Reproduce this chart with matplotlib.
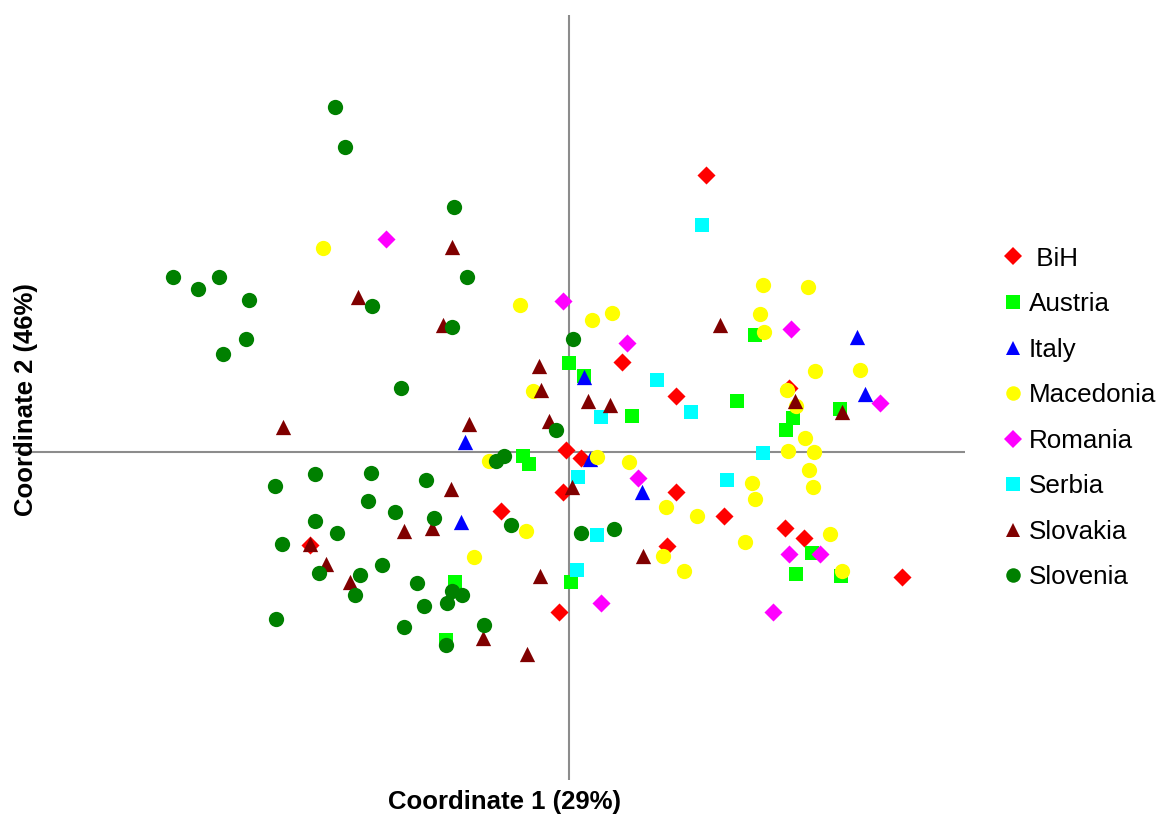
"""
Gráfico de coordenadas (PCoA) por país.
"""
import matplotlib.pyplot as plt
from matplotlib.lines import Line2D

# --- DATOS (Coordenada 1, Coordenada 2) ---
bih_x = [1.37, 0.53, 1.07, 2.20, -0.03, 0.12, -0.06, 1.07, -0.68, 1.55, 2.16, 2.35, 0.98, -2.59, 3.33, -0.10]
bih_y = [2.77, 0.90, 0.56, 0.64, 0.02, -0.06, -0.40, -0.40, -0.59, -0.64, -0.76, -0.86, -0.94, -0.93, -1.25, -1.60]

austria_x = [1.86, 0.00, 0.15, 0.63, 1.68, 2.71, 2.24, 2.17, -0.46, -0.40, 2.43, 2.27, 2.72, 0.02, -1.14, -1.23]
austria_y = [1.17, 0.89, 0.76, 0.36, 0.51, 0.43, 0.34, 0.22, -0.04, -0.12, -1.01, -1.22, -1.24, -1.30, -1.30, -1.88]

italy_x = [0.15, -1.04, 0.21, 0.73, -1.08, 2.88, 2.96]
italy_y = [0.75, 0.10, -0.07, -0.40, -0.70, 1.15, 0.58]

macedonia_x = [-2.46, 1.94, 2.39, -0.49, 0.23, 0.43, 1.91, 1.95, 2.46, 2.91, -0.36, 2.18, 2.27, 2.36, 2.19, 2.45,
               -0.80, 0.28, 0.60, 2.40, 1.83, 2.44, 1.86, 0.97, 1.28, -0.43, 2.61, 1.76, -0.95, 0.94, 1.15, 2.73]
macedonia_y = [2.04, 1.67, 1.65, 1.47, 1.32, 1.39, 1.38, 1.20, 0.81, 0.82, 0.61, 0.62, 0.46, 0.14, 0.01, 0.00,
               -0.09, -0.05, -0.10, -0.18, -0.31, -0.35, -0.47, -0.55, -0.64, -0.79, -0.82, -0.90, -1.05, -1.04, -1.19, -1.19]

romania_x = [-1.83, -0.06, 0.58, 2.22, 3.11, 0.69, 2.20, 2.51, 0.32, 2.04]
romania_y = [2.13, 1.51, 1.09, 1.23, 0.49, -0.26, -1.02, -1.02, -1.51, -1.60]

serbia_x = [1.33, 0.88, 0.32, 1.22, 1.94, 0.09, 1.58, 0.28, 0.08]
serbia_y = [2.27, 0.72, 0.35, 0.40, -0.01, -0.25, -0.28, -0.83, -1.18]

slovakia_x = [-1.17, -2.11, -1.26, 1.51, -0.30, -0.28, 0.19, 0.41, -0.20, -1.00, -2.86, 2.26, 2.73, -1.18, 0.03, -1.65,
              -1.37, -2.59, -2.43, -2.19, -0.29, 0.74, -0.86, -0.42]
slovakia_y = [2.05, 1.55, 1.27, 1.27, 0.86, 0.62, 0.51, 0.47, 0.31, 0.28, 0.25, 0.51, 0.40, -0.37, -0.35, -0.79,
              -0.76, -0.92, -1.12, -1.30, -1.24, -1.04, -1.86, -2.02]

slovenia_x = [-2.34, -2.24, -1.15, -1.02, -3.96, -3.71, -3.50, -3.20, -1.97, -3.23, -3.46, -1.17, 0.04, -1.68, -0.13,
              -0.73, -0.65, -2.94, -2.54, -1.98, -1.43, -2.01, -1.74, -1.35, -2.54, -2.32, -2.87, -0.58, 0.12, 0.45,
              -2.50, -1.87, -2.09, -2.14, -1.52, -1.17, -1.07, -1.22, -1.45, -2.93, -1.65, -0.85, -1.23]
slovenia_y = [3.45, 3.05, 2.45, 1.75, 1.75, 1.63, 1.75, 1.52, 1.46, 1.13, 0.98, 1.25, 1.13, 0.64, 0.22,
              -0.09, -0.04, -0.34, -0.22, -0.21, -0.28, -0.49, -0.60, -0.66, -0.69, -0.81, -0.92, -0.73, -0.81, -0.77,
              -1.21, -1.13, -1.23, -1.43, -1.31, -1.39, -1.43, -1.51, -1.54, -1.67, -1.75, -1.73, -1.93]

paises = [" BiH", "Austria", "Italy", "Macedonia", "Romania", "Serbia", "Slovakia", "Slovenia"]
datos = [(bih_x, bih_y), (austria_x, austria_y), (italy_x, italy_y), (macedonia_x, macedonia_y),
         (romania_x, romania_y), (serbia_x, serbia_y), (slovakia_x, slovakia_y), (slovenia_x, slovenia_y)]

# --- ESTILO ---
colores = ["#FF0000", "#00FF00", "#0000FF", "#FFFF00", "#FF00FF", "#00FFFF", "#800000", "#008000"]
marcadores = ["D", "s", "^", "o", "D", "s", "^", "o"]
tamanos = [9.2, 10.5, 11, 11, 9.2, 10.5, 11, 11]

plt.rcParams['font.family'] = ['Liberation Sans', 'DejaVu Sans']

fig = plt.figure(figsize=(11.61, 8.14), dpi=100)
ax = fig.add_axes([15 / 1161, 34 / 814, 950 / 1161, 765 / 814])

# Ejes centrales
ax.axhline(0, color="#8c8c8c", linewidth=1.5, zorder=1)
ax.axvline(0, color="#8c8c8c", linewidth=1.5, zorder=1)

for (xs, ys), nombre, c, m, t in zip(datos, paises, colores, marcadores, tamanos):
    ax.scatter(xs, ys, marker=m, s=t ** 2, color=c, linewidths=0, zorder=2, label=nombre)

ax.set_xlim(-5.54, 3.96)
ax.set_ylim(-3.28, 4.37)
ax.set_xticks([])
ax.set_yticks([])
for s in ax.spines.values():
    s.set_visible(False)

# Títulos de ejes
fig.text(504 / 1161, 1 - 802 / 814, "Coordinate 1 (29%)", ha="center", va="center",
         fontsize=18.5, fontweight="bold")
fig.text(26 / 1161, 1 - 400 / 814, "Coordinate 2 (46%)", ha="center", va="center",
         fontsize=18.5, fontweight="bold", rotation=90)

# Leyenda
handles = [Line2D([], [], linestyle="none", marker=m, markersize=t * 0.95, markerfacecolor=c,
                  markeredgewidth=0) for c, m, t in zip(colores, marcadores, tamanos)]
fig.legend(handles, paises, loc="center left", bbox_to_anchor=(995 / 1161, 1 - 418 / 814),
           frameon=False, fontsize=18.7, handlelength=0.6, handletextpad=0.3, labelspacing=0.83,
           borderaxespad=0)

fig.savefig("out.png", dpi=100)
